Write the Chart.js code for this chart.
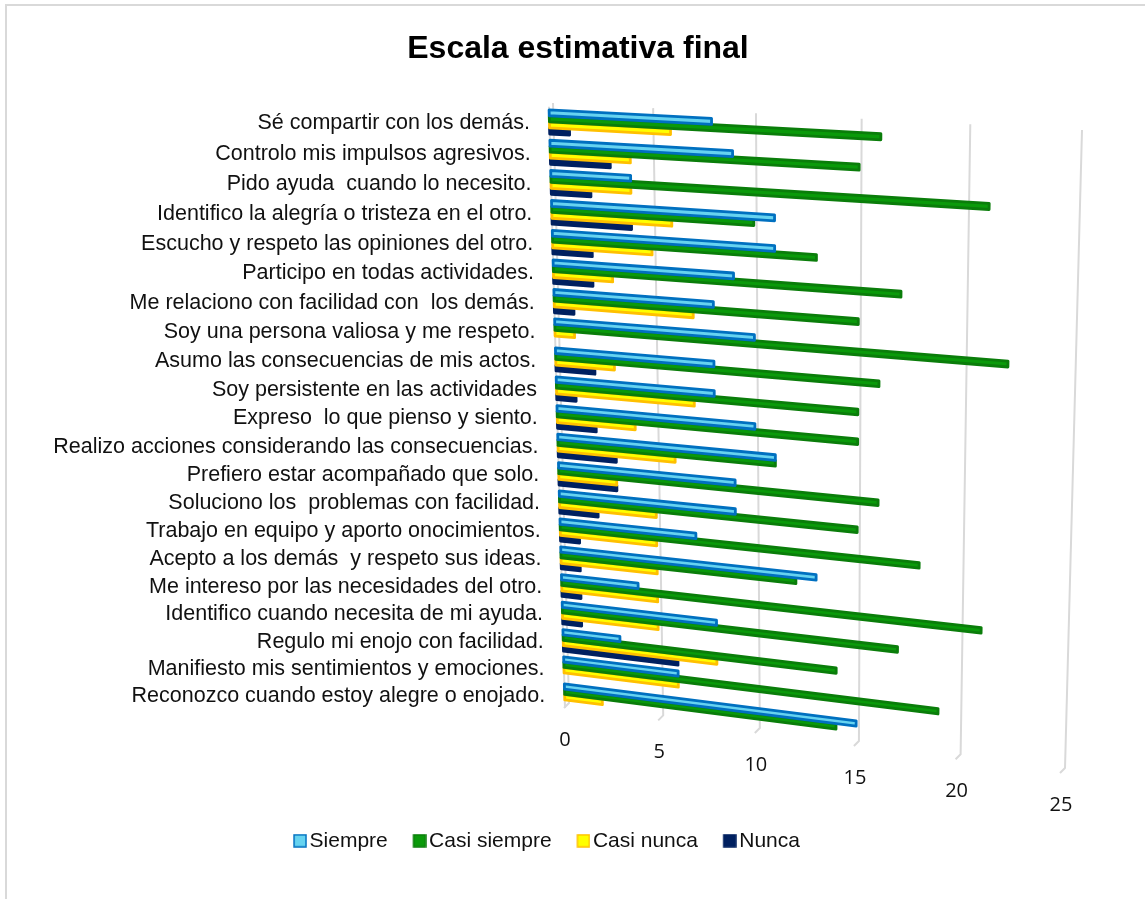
<!DOCTYPE html>
<html>
<head>
<meta charset="utf-8">
<style>html,body{margin:0;padding:0;background:#fff}canvas{display:block}</style>
<script src="https://cdn.jsdelivr.net/npm/chart.js@4"></script>
</head>
<body>
<canvas id="c" width="1145" height="899"></canvas>
<script>
const categories = [
  "Sé compartir con los demás.",
  "Controlo mis impulsos agresivos.",
  "Pido ayuda  cuando lo necesito.",
  "Identifico la alegría o tristeza en el otro.",
  "Escucho y respeto las opiniones del otro.",
  "Participo en todas actividades.",
  "Me relaciono con facilidad con  los demás.",
  "Soy una persona valiosa y me respeto.",
  "Asumo las consecuencias de mis actos.",
  "Soy persistente en las actividades",
  "Expreso  lo que pienso y siento.",
  "Realizo acciones considerando las consecuencias.",
  "Prefiero estar acompañado que solo.",
  "Soluciono los  problemas con facilidad.",
  "Trabajo en equipo y aporto onocimientos.",
  "Acepto a los demás  y respeto sus ideas.",
  "Me intereso por las necesidades del otro.",
  "Identifico cuando necesita de mi ayuda.",
  "Regulo mi enojo con facilidad.",
  "Manifiesto mis sentimientos y emociones.",
  "Reconozco cuando estoy alegre o enojado."
];
const siempre     = [8, 9, 4, 11, 11, 9, 8, 10, 8, 8, 10, 11, 9, 9, 7, 13, 4, 8, 3, 6, 15];
const casiSiempre = [16, 15, 21, 10, 13, 17, 15, 22, 16, 15, 15, 11, 16, 15, 18, 12, 21, 17, 14, 19, 14];
const casiNunca   = [6, 4, 4, 6, 5, 3, 7, 1, 3, 7, 4, 6, 3, 5, 5, 5, 5, 5, 8, 6, 2];
const nunca       = [1, 3, 2, 4, 2, 2, 1, 0, 2, 1, 2, 3, 3, 2, 1, 1, 1, 1, 6, 0, 0];

// Perspective planes (image corners: top-left, top-right, bottom-right, bottom-left)
const WALL  = [[553,103],[1082,130],[1065,768],[569,703]];
const FRONT = [[549,106.7],[1080.5,134.5],[1062.5,772.5],[565,708]];
const GRID_COLOR = '#D9D9D9';

function quadMap(q){
  const [x0,y0]=q[0],[x1,y1]=q[1],[x2,y2]=q[2],[x3,y3]=q[3];
  const dx1=x1-x2,dx2=x3-x2,sx=x0-x1+x2-x3,dy1=y1-y2,dy2=y3-y2,sy=y0-y1+y2-y3;
  const den=dx1*dy2-dx2*dy1;
  const g=(sx*dy2-dx2*sy)/den,h=(dx1*sy-sx*dy1)/den;
  const a=x1-x0+g*x1,b=x3-x0+h*x3,d=y1-y0+g*y1,e=y3-y0+h*y3;
  return (u,v)=>{const w=g*u+h*v+1;return [(a*u+b*v+x0)/w,(d*u+e*v+y0)/w];};
}
const wall=quadMap(WALL), front=quadMap(FRONT);

const perspective = {
  id:'perspective',
  afterLayout(chart){
    const l=chart.legend; l.left+=8; l.right+=8;
    const t=chart.titleBlock; t.left+=37; t.right+=37;
    chart.scales.x.bottom+=50;
  },
  beforeDraw(chart){
    const {ctx,width,height}=chart;
    ctx.save();
    ctx.strokeStyle=GRID_COLOR; ctx.lineWidth=2;
    ctx.beginPath(); ctx.moveTo(6,height); ctx.lineTo(6,5); ctx.lineTo(width,5); ctx.stroke();
    ctx.restore();
    const xs=chart.scales.x, ys=chart.scales.y, A=chart.chartArea;
    xs.getLabelItems().forEach((it,i)=>{
      const u=(xs.getPixelForTick(i)-A.left)/(A.right-A.left);
      const p=wall(u,1);
      it.textOffset=0;
      it.options.textAlign='center';
      it.options.textBaseline='middle';
      it.options.translation=[p[0]-4,p[1]+37];
    });
    ys.getLabelItems().forEach((it,i)=>{
      const v=(ys.getPixelForTick(i)-A.top)/(A.bottom-A.top);
      const p=front(0,v);
      it.textOffset=0;
      it.options.textAlign='right';
      it.options.textBaseline='middle';
      it.options.translation=[p[0]-19.5,p[1]+1.5];
    });
  },
  beforeDatasetsDraw(chart){
    const {ctx}=chart, xs=chart.scales.x, A=chart.chartArea;
    ctx.save();
    ctx.strokeStyle=GRID_COLOR; ctx.lineWidth=2; ctx.lineJoin='round';
    xs.ticks.forEach(t=>{
      const u=(xs.getPixelForValue(t.value)-A.left)/(A.right-A.left);
      const a=wall(u,0),b=wall(u,1),c=[b[0]-5,b[1]+5];
      ctx.beginPath(); ctx.moveTo(a[0],a[1]); ctx.lineTo(b[0],b[1]); ctx.lineTo(c[0],c[1]); ctx.stroke();
    });
    const s=front(0,0),e=front(0,1);
    ctx.beginPath(); ctx.moveTo(s[0],s[1]); ctx.lineTo(e[0],e[1]); ctx.stroke();
    ctx.restore();
  },
  beforeDatasetDraw(chart,args){
    const {ctx}=chart, A=chart.chartArea, ds=chart.data.datasets[args.index];
    const U=x=>(x-A.left)/(A.right-A.left), V=y=>(y-A.top)/(A.bottom-A.top);
    ctx.save();
    ctx.lineJoin='round'; ctx.lineWidth=2.8;
    ctx.fillStyle=ds.backgroundColor; ctx.strokeStyle=ds.borderColor;
    args.meta.data.forEach((el,i)=>{
      if(!ds.data[i]) return;
      const {x,y,base,height}=el.getProps(['x','y','base','height'],true);
      const h=height/2-0.1;
      const pts=[front(U(base),V(y-h)),front(U(x),V(y-h)),front(U(x),V(y+h)),front(U(base),V(y+h))];
      ctx.beginPath();
      pts.forEach((p,k)=>k?ctx.lineTo(p[0],p[1]):ctx.moveTo(p[0],p[1]));
      ctx.closePath(); ctx.fill(); ctx.stroke();
    });
    ctx.restore();
    return false;
  }
};

function swatch(fill,border){
  const c=document.createElement('canvas'); c.width=17; c.height=14;
  const g=c.getContext('2d');
  g.fillStyle=fill; g.fillRect(4,1,12,12);
  g.strokeStyle=border; g.lineWidth=1.5; g.strokeRect(4,1,12,12);
  return c;
}

Chart.defaults.font.family="'Liberation Sans', Arial, sans-serif";
Chart.defaults.color='#111111';
new Chart(document.getElementById('c'),{
  type:'bar',
  plugins:[perspective],
  data:{
    labels:categories,
    datasets:[
      {label:'Siempre',data:siempre,backgroundColor:'#66D3F0',borderColor:'#0070C0'},
      {label:'Casi siempre',data:casiSiempre,backgroundColor:'#0A9A0A',borderColor:'#0A7D0A'},
      {label:'Casi nunca',data:casiNunca,backgroundColor:'#FFFF00',borderColor:'#FFC000'},
      {label:'Nunca',data:nunca,backgroundColor:'#002060',borderColor:'#002060'}
    ]
  },
  options:{
    indexAxis:'y',
    responsive:false,
    animation:false,
    categoryPercentage:0.8,
    barPercentage:1,
    layout:{padding:{left:0,right:63,top:0,bottom:37.7}},
    scales:{
      x:{
        min:0,max:25,
        ticks:{stepSize:5,font:{family:"'Open Sans'",size:20},color:'#111111',maxRotation:0},
        grid:{display:false},border:{display:false},
        afterFit(s){s.height=122;}
      },
      y:{
        ticks:{autoSkip:false,font:{size:21.5},color:'#111111'},
        grid:{display:false},border:{display:false},
        afterFit(s){s.width=553;}
      }
    },
    plugins:{
      title:{display:true,text:'Escala estimativa final',font:{size:32,weight:'bold'},color:'#000000',padding:{top:30,bottom:18}},
      legend:{
        position:'bottom',
        labels:{
          usePointStyle:true,pointStyleWidth:1,boxHeight:4,
          font:{size:21},color:'#111111',padding:29.8,
          generateLabels(chart){
            return chart.data.datasets.map((d,i)=>({
              text:d.label,datasetIndex:i,fontColor:'#111111',hidden:false,lineWidth:0,
              fillStyle:d.backgroundColor,strokeStyle:d.borderColor,
              pointStyle:swatch(d.backgroundColor,d.borderColor)
            }));
          }
        }
      },
      tooltip:{enabled:false}
    }
  }
});
</script>
</body>
</html>
